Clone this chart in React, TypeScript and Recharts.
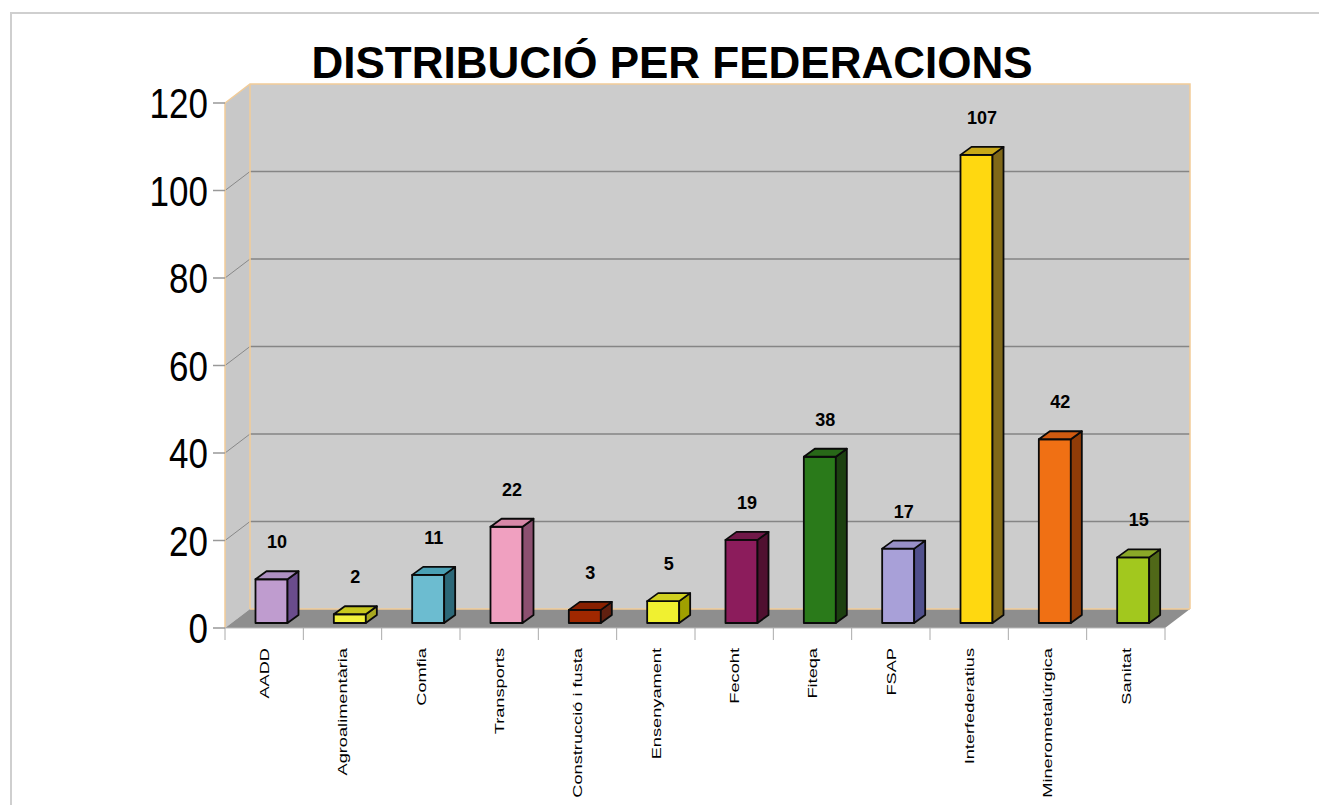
import { BarChart, Bar, XAxis, YAxis, ReferenceArea, LabelList } from "recharts";

const categories = [
  "AADD",
  "Agroalimentària",
  "Comfia",
  "Transports",
  "Construcció i fusta",
  "Ensenyament",
  "Fecoht",
  "Fiteqa",
  "FSAP",
  "Interfederatius",
  "Minerometalúrgica",
  "Sanitat",
];
const values = [10, 2, 11, 22, 3, 5, 19, 38, 17, 107, 42, 15];
const yTicks = [0, 20, 40, 60, 80, 100, 120];

const frontColors = ["#bf9ccf", "#f2f23c", "#6cbcd0", "#f0a0c0", "#a02800", "#f0f030", "#8c1c5c", "#2a7a1a", "#a8a0d8", "#ffd810", "#f07014", "#a2c81e"];
const topColors = ["#ae90c2", "#c8c81e", "#4aa0b4", "#d888a8", "#882000", "#d0d020", "#701848", "#286818", "#9890c8", "#c8a818", "#d05a10", "#8aa828"];
const sideColors = ["#6a4c8c", "#a8a820", "#2c6878", "#8c5070", "#602010", "#a0a000", "#501030", "#1c4010", "#50508c", "#806818", "#903c08", "#506818"];

const data = categories.map((name, i) => ({ name, value: values[i] }));

const FONT = "'Liberation Sans', Arial, sans-serif";
// 3D offsets
const WALL_DX = 25;
const WALL_DY = -19;
const BAR_SHIFT_X = 7.5;
const BAR_SHIFT_Y = -5;
const BAR_DX = 11;
const BAR_DY = -8;

function Walls(props: any) {
  const { x, y, width, height } = props;
  const yMax = yTicks[yTicks.length - 1];
  const bottom = y + height;
  const right = x + width;
  const step = width / categories.length;
  const ty = (v: number) => y + height * (1 - v / yMax);
  return (
    <g>
      <rect x={x + WALL_DX} y={y + WALL_DY} width={width} height={height} fill="#cccccc" />
      <polygon
        points={`${x},${y} ${x + WALL_DX},${y + WALL_DY} ${x + WALL_DX},${bottom + WALL_DY} ${x},${bottom}`}
        fill="#c8c8c8"
      />
      {yTicks.slice(1, -1).map((t) => (
        <g key={t}>
          <line x1={x + WALL_DX} x2={right + WALL_DX} y1={ty(t) + WALL_DY} y2={ty(t) + WALL_DY} stroke="#858585" strokeWidth={1.5} />
          <line x1={x} x2={x + WALL_DX} y1={ty(t)} y2={ty(t) + WALL_DY} stroke="#888" strokeWidth={1} />
        </g>
      ))}
      <polyline
        points={`${x},${bottom} ${x},${y} ${x + WALL_DX},${y + WALL_DY} ${right + WALL_DX},${y + WALL_DY} ${right + WALL_DX},${bottom + WALL_DY}`}
        fill="none"
        stroke="#f2cc98"
        strokeWidth={1.5}
      />
      <line x1={x + WALL_DX} x2={x + WALL_DX} y1={y + WALL_DY} y2={bottom + WALL_DY} stroke="#f2cc98" strokeWidth={1.5} />
      <polygon
        points={`${x},${bottom} ${x + WALL_DX},${bottom + WALL_DY} ${right + WALL_DX},${bottom + WALL_DY} ${right},${bottom}`}
        fill="#8e8e8e"
      />
      <line x1={x + WALL_DX} x2={right + WALL_DX} y1={bottom + WALL_DY} y2={bottom + WALL_DY} stroke="#f2cc98" strokeWidth={1.5} />
      <line x1={x} x2={right} y1={bottom} y2={bottom} stroke="#bbb" strokeWidth={1} />
      {categories.concat([""]).map((_, i) => (
        <line key={i} x1={x + i * step} x2={x + i * step} y1={bottom} y2={bottom + 12} stroke="#aaa" strokeWidth={1} />
      ))}
      {yTicks.map((t) => (
        <line key={"t" + t} x1={x - 12} x2={x} y1={ty(t)} y2={ty(t)} stroke="#999" strokeWidth={1.5} />
      ))}
    </g>
  );
}

function Bar3D(props: any) {
  const { x, y, width, height, index } = props;
  const fx = x + BAR_SHIFT_X;
  const fy = y + BAR_SHIFT_Y;
  const top = `${fx},${fy} ${fx + BAR_DX},${fy + BAR_DY} ${fx + width + BAR_DX},${fy + BAR_DY} ${fx + width},${fy}`;
  const side = `${fx + width},${fy} ${fx + width + BAR_DX},${fy + BAR_DY} ${fx + width + BAR_DX},${fy + height + BAR_DY} ${fx + width},${fy + height}`;
  return (
    <g stroke="#0a0a0a" strokeWidth={1.8} strokeLinejoin="round">
      <rect x={fx} y={fy} width={width} height={height} fill={frontColors[index]} />
      <polygon points={side} fill={sideColors[index]} />
      <polygon points={top} fill={topColors[index]} />
    </g>
  );
}

function ValueLabel(props: any) {
  const { x, y, width, value } = props;
  return (
    <text
      x={x + width / 2 + BAR_SHIFT_X + BAR_DX / 2}
      y={y - 42}
      textAnchor="middle"
      dominantBaseline="central"
      fontFamily={FONT}
      fontWeight="bold"
      fontSize={18}
      fill="#000"
    >
      {value}
    </text>
  );
}

function YTick(props: any) {
  const { x, y, payload } = props;
  return (
    <text
      transform={`translate(${x},${y}) scale(1,1.2)`}
      textAnchor="end"
      dy="0.36em"
      fontFamily={FONT}
      fontSize={35}
      fill="#000"
    >
      {payload.value}
    </text>
  );
}

function XTick(props: any) {
  const { x, y, payload } = props;
  return (
    <text
      transform={`translate(${x},${y}) rotate(-90) scale(1.35,1)`}
      textAnchor="end"
      dy="0.36em"
      fontFamily={FONT}
      fontSize={13.5}
      fill="#000"
      stroke="none"
    >
      {payload.value}
    </text>
  );
}

export default function App() {
  return (
    <div style={{ position: "absolute", left: 0, top: 0, width: 1319, height: 805, background: "#fff", overflow: "hidden" }}>
      <div
        style={{
          position: "absolute",
          left: 10,
          top: 12,
          width: 1320,
          height: 800,
          borderLeft: "2px solid #cfcfcf",
          borderTop: "2px solid #cfcfcf",
        }}
      />
      <div
        style={{
          position: "absolute",
          left: 0,
          right: 0,
          top: 38,
          textAlign: "center",
          paddingLeft: 25,
          fontFamily: FONT,
          fontWeight: "bold",
          fontSize: 44,
          lineHeight: "50px",
          color: "#000",
        }}
      >
        DISTRIBUCIÓ PER FEDERACIONS
      </div>
      <div style={{ position: "absolute", left: 0, top: 0 }}>
        <BarChart width={1319} height={805} data={data} margin={{ top: 103, right: 154, bottom: 7, left: 145 }} barSize={32}>
          <ReferenceArea y1={0} y2={120} ifOverflow="visible" shape={<Walls />} />
          <XAxis dataKey="name" axisLine={false} tickLine={false} tickSize={0} tickMargin={20} height={170} interval={0} tick={<XTick />} />
          <YAxis domain={[0, 120]} ticks={yTicks} axisLine={false} tickLine={false} tickSize={12} tickMargin={5} width={80} tick={<YTick />} />
          <Bar dataKey="value" isAnimationActive={false} shape={<Bar3D />}>
            <LabelList dataKey="value" content={<ValueLabel />} />
          </Bar>
        </BarChart>
      </div>
    </div>
  );
}
